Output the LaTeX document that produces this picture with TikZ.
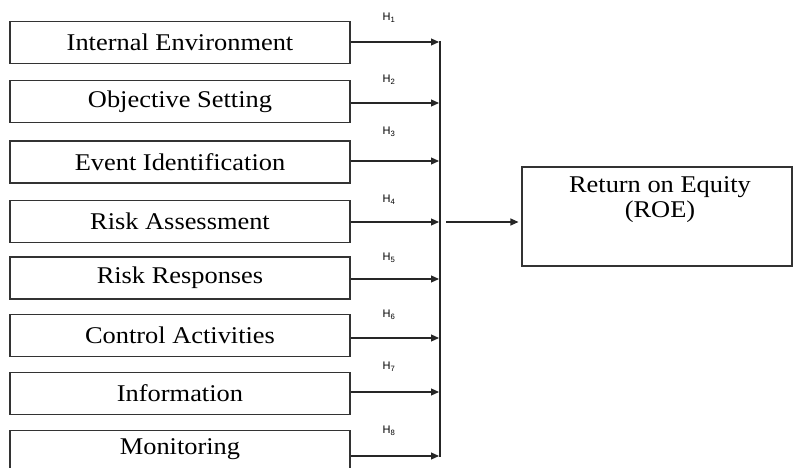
\documentclass[tikz,border=0pt]{standalone}
\usepackage{fontspec}
\setmainfont{Liberation Serif}
\newfontfamily\hfont{Liberation Sans}
\usetikzlibrary{arrows.meta}
\newcommand\widetext[1]{\scalebox{1.1}[1]{#1}}
\begin{document}
\begin{tikzpicture}[x=1pt,y=-1pt,
  fbox/.style={draw=black!80, line width=1.1pt, minimum width=340pt, minimum height=42pt, inner sep=0pt, font=\fontsize{24}{28}\selectfont},
  hyp/.style={font=\hfont\fontsize{11}{13}\selectfont, inner sep=0pt},
  arr/.style={-{Triangle[length=8pt,width=7pt]}, line width=1.1pt, draw=black!85},
  ln/.style={line width=1.1pt, draw=black!85}]
\useasboundingbox (0,0) rectangle (793,468);
\clip (0,0) rectangle (793,468);
% left boxes
\node[fbox] (b1) at (180,42.5) {\widetext{Internal Environment}};
\node[fbox] (b2) at (180,101.5) {\widetext{Objective Setting}};
\node[fbox] (b3) at (180,162) {\widetext{Event Identification}};
\node[fbox] (b4) at (180,221.5) {\widetext{Risk Assessment}};
\node[fbox] (b5) at (180,278) {\widetext{Risk Responses}};
\node[fbox] (b6) at (180,335.5) {\widetext{Control Activities}};
\node[fbox] (b7) at (180,393.5) {\widetext{Information}};
\node[fbox, minimum height=48pt, anchor=north] (b8) at (180,430) {};
\node[font=\fontsize{24}{28}\selectfont, inner sep=0pt] (b8t) at (180,449) {\widetext{Monitoring}};
% bus coordinates
\coordinate (t1) at (439,42);
\coordinate (t2) at (439,103);
\coordinate (t3) at (439,161);
\coordinate (t4) at (439,222);
\coordinate (t5) at (439,279);
\coordinate (t6) at (439,338);
\coordinate (t7) at (439,392);
\coordinate (t8) at (439,456);
\coordinate (bustop) at (440,41);
\coordinate (busbot) at (440,457);
\draw[ln] (bustop) -- (busbot);
\foreach \i in {1,...,8}{
  \draw[arr] (b\i.east |- t\i) -- (t\i);
}
% hypothesis labels
\node[hyp] (h1) at (389,18) {H\textsubscript{1}};
\node[hyp] (h2) at (389,80) {H\textsubscript{2}};
\node[hyp] (h3) at (389,132) {H\textsubscript{3}};
\node[hyp] (h4) at (389,200) {H\textsubscript{4}};
\node[hyp] (h5) at (389,258) {H\textsubscript{5}};
\node[hyp] (h6) at (389,315) {H\textsubscript{6}};
\node[hyp] (h7) at (389,367) {H\textsubscript{7}};
\node[hyp] (h8) at (389,431) {H\textsubscript{8}};
% outcome box
\node[draw=black!80, line width=1.1pt, minimum width=270pt, minimum height=99pt, inner sep=0pt] (roe) at (657,216.5) {};
\node[align=center, inner sep=0pt, font=\fontsize{24}{25}\selectfont] (roet) at (660,199.5) {\widetext{Return on Equity}\\\widetext{(ROE)}};
\coordinate (s) at (446,222);
\draw[arr, shorten >=3pt] (s) -- (roe.west |- s);
\end{tikzpicture}
\end{document}
